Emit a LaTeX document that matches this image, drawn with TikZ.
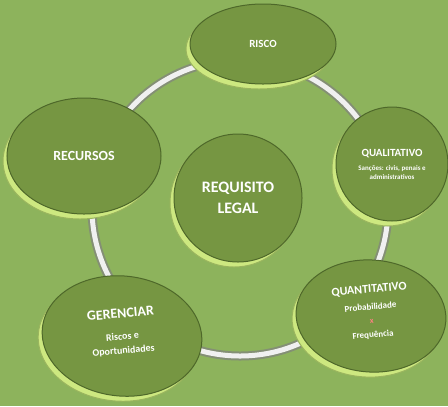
\documentclass[tikz,border=0pt]{standalone}
\usepackage{fontspec}
\setmainfont{Carlito}
\usetikzlibrary{shapes.geometric}

\definecolor{bggreen}{RGB}{141,179,92}
\definecolor{discgreen}{RGB}{118,150,66}
\definecolor{rimgreen}{RGB}{205,232,128}
\definecolor{edgegreen}{RGB}{78,104,42}

\begin{document}
\begin{tikzpicture}[x=1bp,y=-1bp,
                    every node/.style={text=white,align=center},
                    disc/.style={ellipse,fill=discgreen,draw=edgegreen,line width=1bp,inner sep=0pt,
                                 preaction={fill=rimgreen,draw=rimgreen!60!edgegreen,transform canvas={shift={(-4,5)}}}},
                    ring/.style={draw=gray!70!bggreen,line width=2bp,double=white!88!gray,double distance=5bp},
                    big/.style={font=\fontsize{14}{18}\selectfont\bfseries},
                    mid/.style={font=\fontsize{11}{14}\selectfont\bfseries}
]
\fill[bggreen] (0,0) rectangle (448,406);
\useasboundingbox (0,0) rectangle (448,406);

\coordinate (hub) at (240,208);
\draw[ring] (hub) circle [radius=148];

\node [disc,minimum width=128bp,minimum height=128bp,font=\fontsize{16}{21}\selectfont\bfseries] at (238,198) (legal) {REQUISITO\\LEGAL};
%
\node [disc,mid,minimum width=146bp,minimum height=80bp] at (263,44) (risco) {RISCO};
\node [disc,minimum width=112bp,minimum height=114bp,font=\fontsize{7}{9}\selectfont\bfseries] at (392,164) (quali)
      {\fontsize{11}{14}\selectfont QUALITATIVO\\[5bp] \fontsize{7}{9}\selectfont Sanções: civis, penais e\\ administrativos};
\node [disc,minimum width=150bp,minimum height=112bp,rotate=-4] at (371,316) (quanti) {};
\node [rotate=5,font=\fontsize{9}{12}\selectfont\bfseries] at ([yshift=4bp]quanti) (quantitxt)
      {\fontsize{12}{15}\selectfont QUANTITATIVO\\[5bp] \fontsize{9}{12}\selectfont Probabilidade\\[2bp] \fontsize{8}{9}\selectfont\color{red!50!white} x\\[2bp] \fontsize{9}{12}\selectfont Frequência};
\node [disc,minimum width=160bp,minimum height=120bp,rotate=-6] at (122,336) (gerenciar) {};
\node [rotate=5,font=\fontsize{10}{13}\selectfont\bfseries] at ([yshift=4bp]gerenciar) (gerenciartxt)
      {\fontsize{14}{17}\selectfont GERENCIAR\\[9bp] \fontsize{10}{13}\selectfont Riscos e\\[1bp] Oportunidades};
\node [disc,big,minimum width=154bp,minimum height=116bp] at (84,156) (recursos) {RECURSOS};
\end{tikzpicture}
\end{document}
